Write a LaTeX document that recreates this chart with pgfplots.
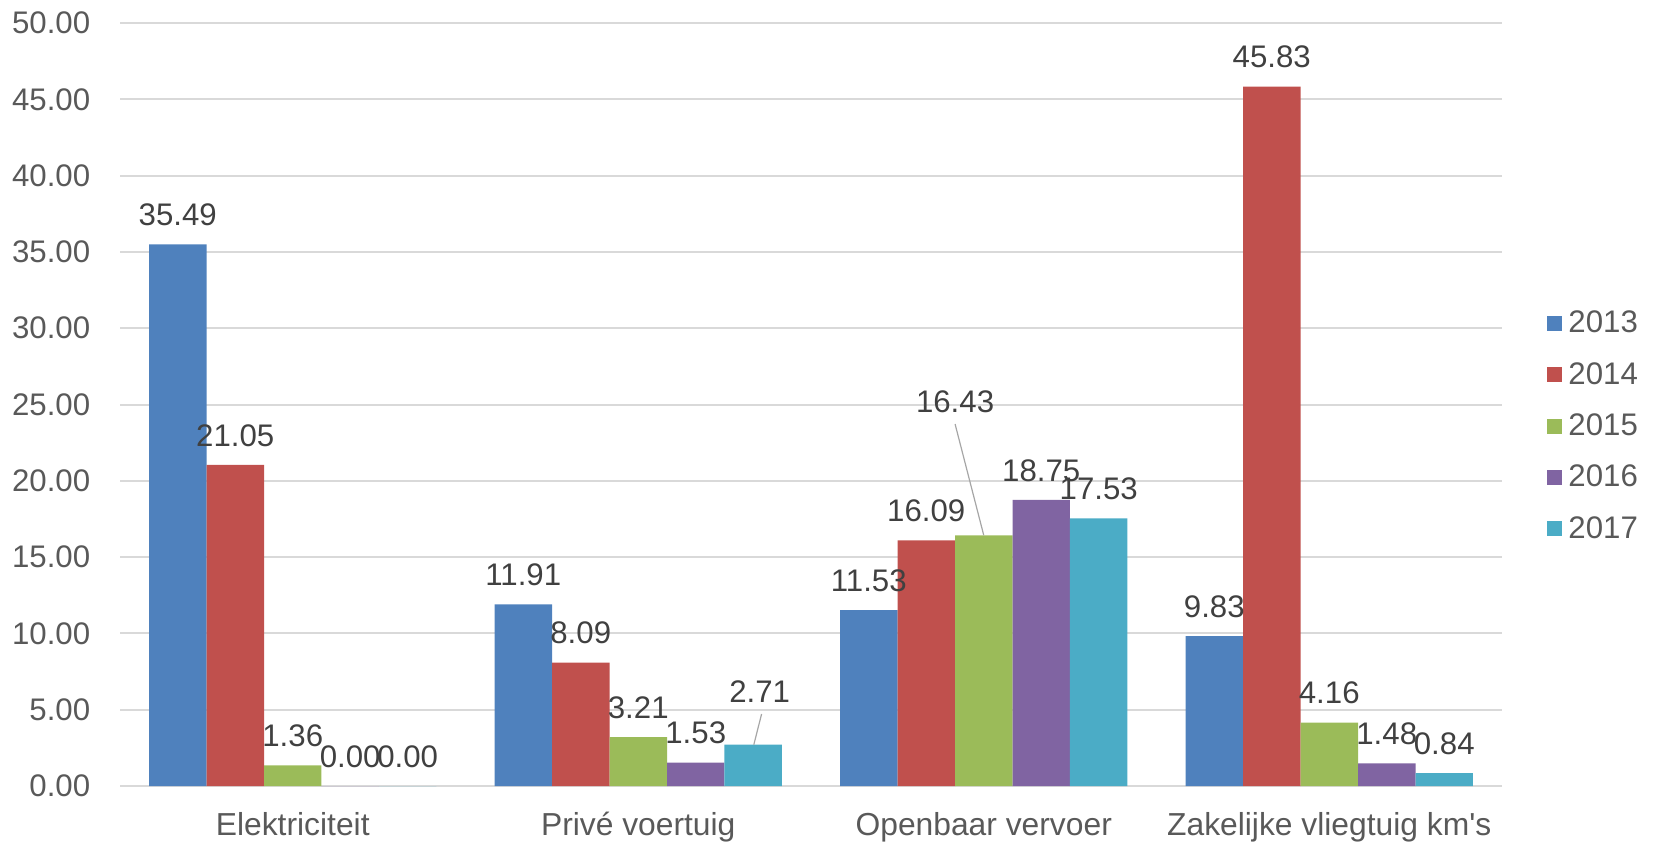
\documentclass[border=0pt]{standalone}
\usepackage{fontspec}
\setmainfont{Liberation Sans}
\usepackage{pgfplots}
\pgfplotsset{compat=1.18}
\definecolor{c13}{HTML}{4F81BD}
\definecolor{c14}{HTML}{C0504D}
\definecolor{c15}{HTML}{9BBB59}
\definecolor{c16}{HTML}{8064A2}
\definecolor{c17}{HTML}{4BACC6}
\definecolor{tickc}{HTML}{595959}
\definecolor{labc}{HTML}{404040}
\definecolor{gridc}{HTML}{D9D9D9}
\definecolor{leadc}{HTML}{A6A6A6}
\newcommand\lf{\fontsize{15.6pt}{18pt}\selectfont}
\newcommand\cf{\fontsize{15.9pt}{18pt}\selectfont}
\pgfplotsset{sqlegend/.style={legend image code/.code={\fill[##1,draw=none] (0pt,-3.75pt) rectangle (7.5pt,3.75pt);}}}
\begin{document}
\begin{tikzpicture}
\path[use as bounding box] (0,0) rectangle (826.5pt,421pt);
\begin{axis}[
  at={(60pt,28pt)}, anchor=south west, scale only axis,
  width=691pt, height=381.5pt,
  ybar=0pt, bar width=0.1664,
  xmin=-0.5, xmax=3.5, ymin=0, ymax=50,
  clip=false,
  xtick={0,1,2,3},
  xticklabels={Elektriciteit, Privé voertuig, Openbaar vervoer, Zakelijke vliegtuig km\textquotesingle s},
  ytick={0,5,...,50},
  ymajorgrids, major grid style={gridc, line width=1pt},
  axis x line*=bottom, axis y line*=left,
  y axis line style={draw=none},
  x axis line style={gridc, line width=1pt, -},
  major tick length=0pt, tick style={draw=none},
  yticklabel style={font=\lf, color=tickc, anchor=east, inner sep=0pt, xshift=-14.7pt,
    /pgf/number format/.cd, fixed, fixed zerofill, precision=2, assume math mode=true},
  xticklabel style={font=\cf, color=tickc, anchor=north, inner sep=0pt, yshift=-13pt},
  nodes near coords, point meta=explicit symbolic,
  every node near coord/.append style={font=\lf, color=labc, anchor=south, inner sep=0pt, yshift=9pt},
  legend style={at={(1.0326,0.4718)}, anchor=west, draw=none, fill=none, inner sep=0pt,
    font=\lf, text=tickc, row sep=13.3pt, nodes={inner sep=0pt},
    /tikz/every odd column/.append style={column sep=3pt}},
  legend cell align=left,
]
\addplot[fill=c13, draw=none, sqlegend] coordinates {(0,35.49)[35.49] (1,11.91)[11.91] (2,11.53)[11.53] (3,9.83)[9.83]};
\addplot[fill=c14, draw=none, sqlegend] coordinates {(0,21.05)[21.05] (1,8.09)[8.09] (2,16.09)[16.09] (3,45.83)[45.83]};
\addplot[fill=c15, draw=none, sqlegend] coordinates {(0,1.36)[1.36] (1,3.21)[3.21] (2,16.43)[{}] (3,4.16)[4.16]};
\addplot[fill=c16, draw=none, sqlegend] coordinates {(0,0)[0.00] (1,1.53)[1.53] (2,18.75)[18.75] (3,1.48)[1.48]};
\addplot[fill=c17, draw=none, sqlegend] coordinates {(0,0)[0.00] (1,2.71)[{}] (2,17.53)[17.53] (3,0.84)[0.84]};
\legend{2013,2014,2015,2016,2017}
\draw[leadc, line width=0.6pt] (axis cs:1.917,23.72) -- (axis cs:2.0,16.43);
\node[font=\lf, color=labc, anchor=south, inner sep=0pt] at (axis cs:1.917,24.42) {16.43};
\draw[leadc, line width=0.6pt] (axis cs:1.357,4.72) -- (axis cs:1.3345,2.71);
\node[font=\lf, color=labc, anchor=south, inner sep=0pt] at (axis cs:1.3515,5.46) {2.71};
\end{axis}
\end{tikzpicture}
\end{document}
